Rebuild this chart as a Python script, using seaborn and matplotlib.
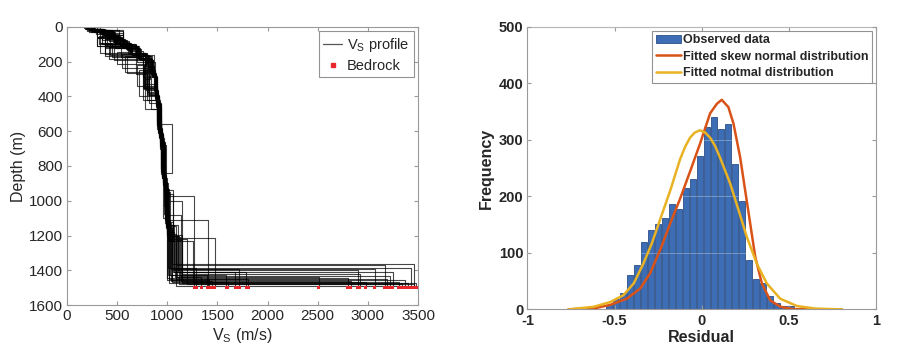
import numpy as np
import pandas as pd
import matplotlib
matplotlib.use("Agg")
import matplotlib.pyplot as plt
from matplotlib.lines import Line2D
from matplotlib.patches import Patch
import seaborn as sns

# ---------------- data: left panel (Vs profiles) ----------------
# layer-top depths (m) and shear-wave velocities (m/s); last layer = bedrock
profile_depths = [
    [0, 20, 45, 110, 170, 250, 400, 620, 880, 1150, 1365],
    [0, 10, 40, 90, 150, 215, 330, 520, 760, 1030, 1385],
    [0, 30, 60, 120, 175, 290, 470, 700, 960, 1215],
    [0, 15, 55, 100, 160, 240, 380, 600, 870, 1110],
    [0, 25, 80, 130, 200, 300, 450, 680, 975],
    [0, 8, 30, 95, 175, 270, 420, 640, 900, 1200, 1440],
    [0, 20, 60, 115, 180, 300, 470, 560, 840, 1100, 1445],
    [0, 12, 35, 80, 140, 210, 350, 560, 820, 1080, 1460],
    [0, 22, 65, 110, 170, 260, 410, 620, 900, 1180, 1400],
    [0, 14, 48, 100, 160, 230, 360, 580, 850, 1000, 1420],
    [0, 28, 75, 125, 190, 280, 440, 660, 930, 1230, 1470],
    [0, 16, 52, 98, 155, 225, 370, 590, 860, 1130, 1395],
    [0, 20, 58, 120, 175, 265, 430, 650, 910, 1190, 1370],
    [0, 11, 40, 92, 150, 220, 340, 540, 800, 1060, 1450],
    [0, 24, 62, 112, 182, 275, 450, 680, 940, 1210, 1435],
    [0, 13, 45, 96, 158, 235, 390, 610, 870, 1140, 1410],
    [0, 19, 57, 104, 168, 255, 420, 640, 905, 1170, 1470],
    [0, 26, 72, 122, 188, 290, 460, 690, 950, 1220, 1480],
    [0, 9, 37, 85, 145, 212, 345, 555, 815, 1075, 1455],
    [0, 21, 61, 111, 178, 268, 435, 655, 915, 1195, 1475],
    [0, 17, 53, 101, 162, 245, 395, 615, 875, 1145, 1490],
    [0, 23, 66, 116, 183, 278, 455, 675, 935, 1205, 1480],
    [0, 12, 44, 94, 152, 228, 365, 585, 845, 1110, 1385],
    [0, 27, 70, 120, 186, 288, 465, 695, 955, 1230, 1440],
    [0, 15, 49, 97, 159, 238, 385, 605, 865, 1135, 1430],
    [0, 19, 56, 106, 170, 258, 415, 635, 895, 1165, 1460],
    [0, 10, 39, 90, 148, 218, 352, 565, 825, 1095, 1425],
    [0, 29, 76, 126, 192, 282, 445, 665, 925, 1225, 1465],
    [0, 14, 47, 99, 157, 232, 375, 595, 855, 1125, 1410],
    [0, 22, 63, 113, 179, 270, 440, 660, 920, 1200, 1395],
    [0, 16, 51, 99, 161, 242, 392, 612, 872, 1142, 1410],
    [0, 25, 69, 119, 184, 284, 462, 692, 952, 1222, 1450],
    [0, 12, 43, 91, 151, 222, 356, 572, 832, 1102, 1475],
    [0, 18, 54, 104, 166, 252, 405, 625, 885, 1155, 1455],
]
profile_vs = [
    [250, 560, 430, 700, 850, 880, 915, 955, 985, 1050, 3460],
    [180, 330, 520, 610, 800, 780, 900, 940, 970, 1010, 3430],
    [220, 300, 480, 540, 760, 840, 930, 975, 1060, 1475],
    [300, 450, 350, 650, 870, 820, 910, 950, 1000, 1410],
    [200, 420, 600, 700, 880, 900, 940, 990, 1270],
    [170, 240, 330, 450, 690, 800, 925, 965, 1010, 1100, 2510],
    [260, 520, 380, 700, 830, 777, 910, 1044, 960, 1000, 2800],
    [210, 380, 560, 620, 760, 760, 895, 935, 975, 1140, 2830],
    [330, 470, 300, 710, 840, 880, 920, 960, 1000, 1070, 2900],
    [220, 360, 560, 430, 810, 870, 910, 950, 990, 1145, 2920],
    [270, 350, 590, 730, 855, 820, 935, 980, 1020, 1260, 2980],
    [205, 450, 515, 380, 790, 865, 905, 945, 980, 1040, 3070],
    [235, 300, 545, 700, 600, 885, 925, 960, 995, 1090, 3170],
    [195, 290, 470, 330, 780, 700, 900, 940, 975, 1020, 3195],
    [255, 445, 300, 715, 845, 890, 930, 970, 1060, 1130, 3220],
    [215, 370, 490, 640, 550, 800, 910, 950, 985, 1110, 3250],
    [240, 415, 535, 380, 825, 760, 920, 960, 995, 1050, 3310],
    [265, 380, 575, 470, 850, 895, 935, 975, 1030, 1200, 3340],
    [185, 320, 455, 615, 500, 780, 895, 935, 970, 1000, 3370],
    [245, 560, 400, 705, 838, 885, 925, 965, 1000, 1150, 3400],
    [225, 395, 320, 685, 815, 720, 915, 955, 990, 1085, 3430],
    [250, 450, 560, 420, 842, 888, 928, 968, 1005, 1120, 3460],
    [200, 355, 485, 635, 785, 790, 902, 942, 978, 1025, 1290],
    [270, 465, 380, 725, 848, 893, 933, 973, 1015, 1080, 1340],
    [215, 375, 495, 645, 805, 810, 912, 952, 988, 1030, 1400],
    [235, 410, 530, 690, 580, 878, 918, 958, 993, 1040, 1450],
    [190, 335, 465, 625, 775, 770, 898, 938, 973, 1010, 1590],
    [275, 475, 595, 735, 858, 898, 938, 978, 1010, 1145, 1605],
    [210, 365, 495, 640, 795, 800, 908, 948, 983, 1060, 1680],
    [245, 435, 550, 710, 840, 885, 925, 965, 1000, 1110, 1715],
    [220, 385, 510, 675, 812, 820, 913, 953, 988, 1070, 1790],
    [260, 455, 565, 720, 846, 890, 930, 972, 1010, 1090, 1810],
    [200, 345, 475, 630, 782, 770, 900, 940, 976, 1015, 3480],
    [230, 418, 528, 690, 820, 880, 918, 958, 990, 1045, 1420],
]
bedrock_depth = 1500

# ---------------- data: right panel (residual histogram) ----------------
hist_counts = [8, 19, 29, 61, 78, 119, 141, 151, 162, 186, 177, 215, 230, 272,
               323, 340, 320, 329, 257, 192, 88, 54, 46, 24, 12, 6, 6]
hist_start = -0.55
hist_width = 0.04

skew_x = [-0.765, -0.6, -0.525, -0.43, -0.353, -0.296, -0.239, -0.181, -0.124,
          -0.067, -0.009, 0.048, 0.087, 0.115, 0.153, 0.182, 0.22, 0.249, 0.278,
          0.307, 0.345, 0.393, 0.45, 0.52, 0.65, 0.805]
skew_y = [0, 3, 8, 19, 37, 64, 105, 152, 196, 244, 294, 347, 364, 371, 358, 329,
          270, 211, 152, 93, 46, 16, 5, 0.5, 0, 0]
norm_x = [-0.765, -0.62, -0.525, -0.45, -0.39, -0.335, -0.286, -0.24, -0.18,
          -0.124, -0.095, -0.067, -0.04, -0.01, 0.02, 0.048, 0.077, 0.106, 0.163,
          0.211, 0.259, 0.316, 0.373, 0.45, 0.546, 0.65, 0.805]
norm_y = [0, 4.6, 13, 25, 46, 81, 117, 158, 211, 266, 288, 304, 313, 317, 313,
          304, 289, 268, 223, 176, 128, 81, 46, 19, 6, 1.5, 0]

# ---------------- style ----------------
sns.set_style("ticks")
plt.rcParams["font.family"] = ["Liberation Sans", "DejaVu Sans"]
plt.rcParams["mathtext.fontset"] = "custom"
plt.rcParams["mathtext.rm"] = "Liberation Sans"
plt.rcParams["mathtext.it"] = "Liberation Sans"
plt.rcParams["xtick.direction"] = "in"
plt.rcParams["ytick.direction"] = "in"

spine_col = "#9a9a9a"
text_col = "#262626"

fig = plt.figure(figsize=(9.0, 3.64), dpi=100)
ax1 = fig.add_axes([0.0744, 0.162, 0.390, 0.764])
ax2 = fig.add_axes([0.586, 0.150, 0.3874, 0.776])

# ---------------- left panel ----------------
rows = []
for pid, (dd, vv) in enumerate(zip(profile_depths, profile_vs)):
    bottoms = dd[1:] + [bedrock_depth]
    k = 0
    for top, bot, v in zip(dd, bottoms, vv):
        rows.append((pid, k, v, top)); k += 1
        rows.append((pid, k, v, bot)); k += 1
df_prof = pd.DataFrame(rows, columns=["profile", "order", "vs", "depth"])
sns.lineplot(data=df_prof, x="vs", y="depth", units="profile", estimator=None,
             sort=False, color="black", lw=0.8, alpha=0.72, ax=ax1, legend=False)

bed_vs = [vv[-1] for vv in profile_vs]
sns.scatterplot(x=bed_vs, y=[bedrock_depth] * len(bed_vs), marker="s", s=5,
                color="#e8262b", edgecolor="none", ax=ax1, zorder=5)

ax1.set_xlim(0, 3500)
ax1.set_ylim(1600, 0)
ax1.set_xticks(range(0, 3501, 500))
ax1.set_yticks(range(0, 1601, 200))
ax1.set_xlabel(r"V$_\mathrm{S}$ (m/s)", fontsize=11.5, color=text_col, labelpad=2)
ax1.set_ylabel("Depth (m)", fontsize=11.5, color=text_col, labelpad=2)
ax1.tick_params(labelsize=11, colors=text_col, length=3, top=True, right=True,
                color=spine_col, pad=3)
for s in ax1.spines.values():
    s.set_color(spine_col); s.set_linewidth(0.8); s.set_visible(True)

h1 = [Line2D([0], [0], color="#555555", lw=0.9),
      Line2D([0], [0], color="#e8262b", marker="s", ms=2.2, lw=0)]
leg1 = ax1.legend(h1, [r"V$_\mathrm{S}$ profile", "Bedrock"], loc="upper right",
                  fontsize=10.5, frameon=True, fancybox=False, edgecolor="#777777",
                  borderaxespad=0.3, handlelength=1.3, handletextpad=0.3,
                  borderpad=0.3, labelspacing=0.35)
leg1.get_frame().set_linewidth(0.8)

# ---------------- right panel ----------------
bin_edges = [round(hist_start + hist_width * i, 4) for i in range(len(hist_counts) + 1)]
bin_centers = [round(e + hist_width / 2, 4) for e in bin_edges[:-1]]
df_hist = pd.DataFrame({"residual": bin_centers, "count": hist_counts})
sns.histplot(data=df_hist, x="residual", weights="count", bins=bin_edges,
             shrink=0.9, color="#3d6eb5", edgecolor="#2b4e86", linewidth=0.6,
             alpha=1.0, ax=ax2, zorder=2)
sns.lineplot(x=skew_x, y=skew_y, color="#D95319", lw=1.8, sort=False,
             estimator=None, ax=ax2, zorder=4)
sns.lineplot(x=norm_x, y=norm_y, color="#E8B223", lw=1.8, sort=False,
             estimator=None, ax=ax2, zorder=4)

ax2.set_xlim(-1, 1)
ax2.set_ylim(0, 500)
ax2.set_xticks([-1, -0.5, 0, 0.5, 1])
ax2.set_xticklabels(["-1", "-0.5", "0", "0.5", "1"])
ax2.set_yticks(range(0, 501, 100))
ax2.set_xlabel("Residual", fontsize=11.5, fontweight="bold", color=text_col, labelpad=2)
ax2.set_ylabel("Frequency", fontsize=11.5, fontweight="bold", color=text_col, labelpad=3)
ax2.tick_params(labelsize=10.5, colors=text_col, length=3, top=True, right=True,
                color=spine_col, pad=3)
for lab in ax2.get_xticklabels() + ax2.get_yticklabels():
    lab.set_fontweight("bold")
for s in ax2.spines.values():
    s.set_color(spine_col); s.set_linewidth(0.8); s.set_visible(True)
ax2.yaxis.grid(True, color="white", alpha=0.35, lw=0.6)
ax2.set_axisbelow(False)

h2 = [Patch(facecolor="#3d6eb5", edgecolor="#2b4e86", lw=0.6),
      Line2D([0], [0], color="#D95319", lw=1.8),
      Line2D([0], [0], color="#E8B223", lw=1.8)]
leg2 = ax2.legend(h2, ["Observed data", "Fitted skew normal distribution",
                       "Fitted notmal distribution"],
                  loc="upper right", prop={"size": 9, "weight": "bold"},
                  frameon=True, fancybox=False, edgecolor="#777777",
                  borderaxespad=0.3, handlelength=2.0, handletextpad=0.2,
                  borderpad=0.3, labelspacing=0.35)
leg2.get_frame().set_linewidth(0.8)

fig.savefig("out.png", dpi=100)
